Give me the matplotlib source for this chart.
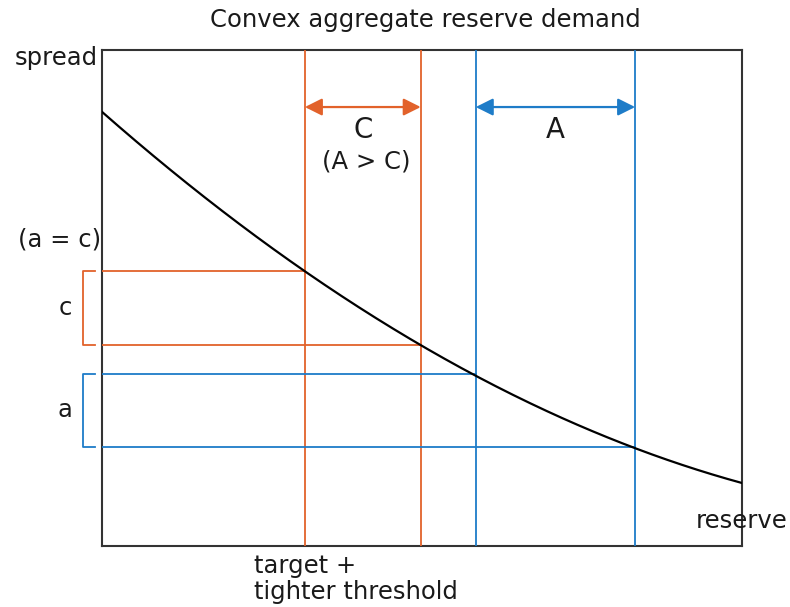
import numpy as np
import matplotlib.pyplot as plt

# reserve (x) and spread (y), axes run 0..10
reserve = [0, 0.5, 1, 1.5, 2, 2.5, 3, 3.5, 4, 4.5, 5,
           5.5, 6, 6.5, 7, 7.5, 8, 8.5, 9, 9.5, 10]
spread = [8.75, 8.19, 7.67, 7.13, 6.64, 6.15, 5.70, 5.24, 4.83, 4.41, 4.04,
          3.66, 3.33, 2.99, 2.70, 2.40, 2.14, 1.89, 1.67, 1.45, 1.27]

# the two pairs of reserve levels and the spreads they give
orange_x = [3.17, 4.98]
orange_y = [5.54, 4.05]
blue_x = [5.84, 8.33]
blue_y = [3.47, 2.00]

ORANGE = "#E2622B"
BLUE = "#1E7CC8"
TXT = "#1a1a1a"
FS = 17.5

fig = plt.figure(figsize=(7.9, 6.07), dpi=100)
ax = fig.add_axes([102/790, 61/607, 640/790, 496/607])
ax.set_xlim(0, 10)
ax.set_ylim(0, 10)
ax.set_xticks([])
ax.set_yticks([])
for s in ax.spines.values():
    s.set_color("#333333")
    s.set_linewidth(1.5)

# smooth the read points a little so the curve has no visible corners
coef = np.polyfit(reserve, spread, 3)
xs_fine = np.linspace(reserve[0], reserve[-1], 300)
ax.plot(xs_fine, np.polyval(coef, xs_fine), color="black", lw=1.6, zorder=5)

# vertical + horizontal guide lines
for xs, ys, c in [(orange_x, orange_y, ORANGE), (blue_x, blue_y, BLUE)]:
    for x, y in zip(xs, ys):
        ax.axvline(x, color=c, lw=1.3, zorder=3)
        ax.plot([0, x], [y, y], color=c, lw=1.3, zorder=3)

# width arrows on top
arr_y = 8.85
for xs, c in [(orange_x, ORANGE), (blue_x, BLUE)]:
    ax.annotate("", xy=(xs[1], arr_y), xytext=(xs[0], arr_y),
                arrowprops=dict(arrowstyle="<|-|>", color=c, lw=1.6,
                                mutation_scale=26, shrinkA=0, shrinkB=0))

ax.text(np.mean(orange_x), 8.39, "C", ha="center", va="center", fontsize=20, color=TXT)
ax.text(np.mean(orange_x) + 0.05, 7.75, "(A > C)", ha="center", va="center", fontsize=FS, color=TXT)
ax.text(np.mean(blue_x), 8.39, "A", ha="center", va="center", fontsize=20, color=TXT)

# brackets at the left, outside the axes
bx = -0.3
tick = 0.19
for ys, c, lab in [(orange_y, ORANGE, "c"), (blue_y, BLUE, "a")]:
    ax.plot([bx + tick, bx, bx, bx + tick], [ys[0], ys[0], ys[1], ys[1]],
            color=c, lw=1.3, clip_on=False)
    ax.text(bx - 0.28, np.mean(ys), lab, ha="center", va="center", fontsize=FS, color=TXT)

ax.text(-0.66, 6.17, "(a = c)", ha="center", va="center", fontsize=FS, color=TXT)
ax.text(-0.06, 9.84, "spread", ha="right", va="center", fontsize=FS, color=TXT)
ax.text(10.0, 0.5, "reserve", ha="center", va="center", fontsize=FS, color=TXT)
ax.text(2.38, -0.17, "target +\ntighter threshold", ha="left", va="top",
        fontsize=FS, color=TXT, linespacing=1.1)

fig.text(425/790, 1 - 20/607, "Convex aggregate reserve demand",
         ha="center", va="center", fontsize=FS, color=TXT)

fig.savefig("out.png", dpi=100)
